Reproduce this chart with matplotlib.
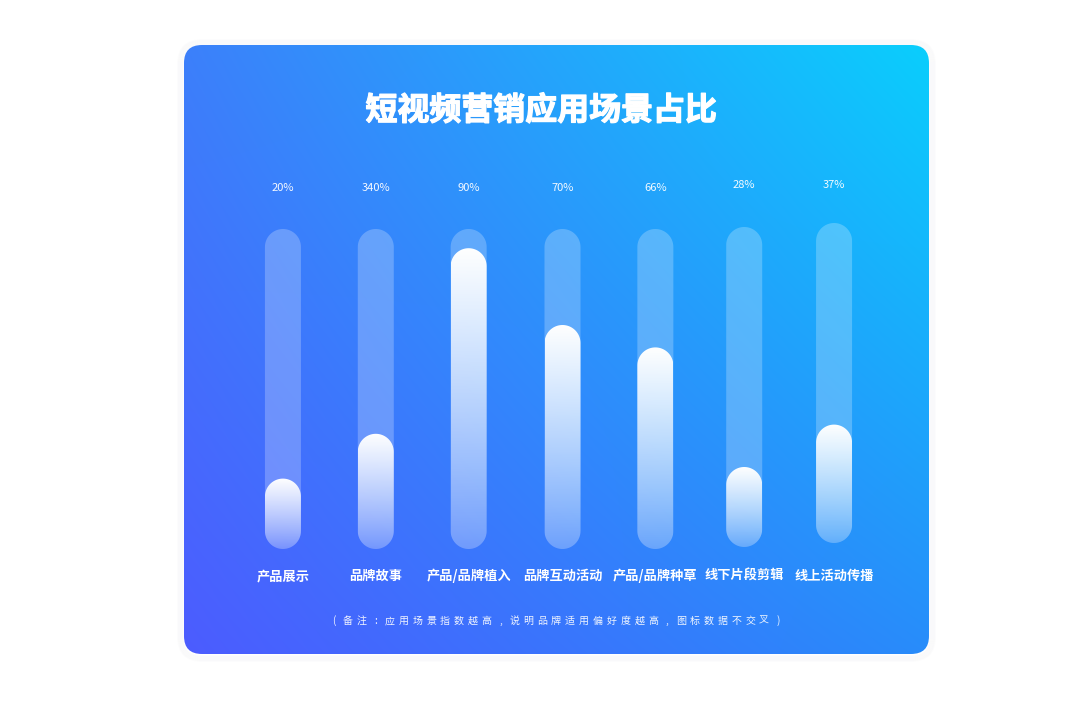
import numpy as np
import matplotlib.pyplot as plt
import matplotlib.patheffects as pe
from matplotlib.patches import FancyBboxPatch, Polygon
from matplotlib.transforms import IdentityTransform

plt.rcParams['font.family'] = ['Noto Sans CJK SC', 'DejaVu Sans']

# 数据
categories = ['产品展示', '品牌故事', '产品/品牌植入', '品牌互动活动', '产品/品牌种草', '线下片段剪辑', '线上活动传播']
pct_labels = ['20%', '340%', '90%', '70%', '66%', '28%', '37%']
values = [22, 36, 94, 70, 63, 25, 37]   # 按图中白色柱高读出
title = '短视频营销应用场景占比'
note = '(备注:应用场景指数越高,说明品牌适用偏好度越高,图标数据不交叉)'

W, H = 1080, 717
fig = plt.figure(figsize=(W / 100, H / 100), dpi=100, facecolor='white')


def pill(xc, y0, y1, r, **kw):
    # 圆头柱子 (显示坐标)
    a = np.linspace(0, np.pi, 40)
    top = np.column_stack([xc + r * np.cos(a), y1 - r + r * np.sin(a)])
    bot = np.column_stack([xc - r * np.cos(a), y0 + r - r * np.sin(a)])
    return Polygon(np.vstack([top, bot]), closed=True, transform=IdentityTransform(),
                   clip_on=False, **kw)


# 背景卡片
bg = fig.add_axes([0, 0, 1, 1])
bg.set_xlim(0, W)
bg.set_ylim(0, H)
bg.axis('off')

cx0, cx1, cy0, cy1 = 184, 929, 63, 672  # 卡片 (y 从底部算起)
for k in range(1, 7):
    sh = FancyBboxPatch((cx0 - k, cy0 - k - 1), cx1 - cx0 + 2 * k, cy1 - cy0 + 2 * k,
                        boxstyle='round,pad=0,rounding_size=%d' % (18 + k),
                        fc='none', ec=(0.5, 0.55, 0.65, 0.025), lw=1.2)
    bg.add_patch(sh)
card = FancyBboxPatch((cx0, cy0), cx1 - cx0, cy1 - cy0,
                      boxstyle='round,pad=0,rounding_size=18', fc='none', ec='none')
bg.add_patch(card)

# 四角颜色做双线性渐变
tl = np.array([60, 128, 250]) / 255
tr = np.array([10, 206, 253]) / 255
bl = np.array([76, 92, 255]) / 255
br = np.array([40, 140, 250]) / 255
u = np.linspace(0, 1, 200)[None, :, None]
v = np.linspace(0, 1, 200)[:, None, None]
grad = (1 - v) * ((1 - u) * tl + u * tr) + v * ((1 - u) * bl + u * br)
img = bg.imshow(grad, extent=[cx0, cx1, cy0, cy1], origin='upper', aspect='auto',
                interpolation='bilinear', zorder=1)
img.set_clip_path(card)

bg.text((cx0 + cx1) / 2 - 15, H - 111, title, color='white', fontsize=23,
        fontweight='bold', ha='center', va='center', zorder=5,
        path_effects=[pe.withStroke(linewidth=0.9, foreground='white')])

# 备注文字逐字等距排布
nx = np.linspace(334, 778, len(note))
for ch, x in zip(note, nx):
    bg.text(x, H - 621, ch, color='white', fontsize=7.2, ha='center', va='center',
            zorder=5, alpha=0.92)

# 柱状区域
ax = fig.add_axes([237 / W, 168 / H, 643 / W, 320 / H])
ax.set_xlim(-0.5, len(categories) - 0.5)
ax.set_ylim(0, 100)
ax.axis('off')
ax.patch.set_alpha(0)

nudge = [0, 1, 2, 4, 5, 2, 0]
lift = [0, 0, 0, 0, 0, 2, 6]
lab_lift = [0, 0, 0, 0, 0, 3, 3]
r = 18
fig.canvas.draw()
for i, (cat, lab, val) in enumerate(zip(categories, pct_labels, values)):
    xc, yb = ax.transData.transform((i, 0))
    _, yt = ax.transData.transform((i, 100))
    _, yv = ax.transData.transform((i, val))
    xc += nudge[i]
    yb += lift[i]
    yt += lift[i]
    yv += lift[i]
    ax.add_patch(pill(xc, yb, yt, r, fc=(1, 1, 1, 0.24), ec='none', zorder=2))
    fill = pill(xc, yb, yv, r, fc='none', ec='none', zorder=3)
    ax.add_patch(fill)
    t = np.linspace(1, 0, 100) ** 0.9
    g = np.ones((100, 1, 4))
    g[:, 0, 3] = 0.05 + 0.95 * t
    x0, y0 = ax.transData.inverted().transform((xc - r, yb))
    x1, y1 = ax.transData.inverted().transform((xc + r, yv))
    im = ax.imshow(g, extent=[x0, x1, y0, y1], origin='upper', aspect='auto',
                   interpolation='bilinear', zorder=3)
    im.set_clip_path(fill)
    bg.text(xc, H - 188 + lab_lift[i], lab, color='white', fontsize=8, ha='center',
            va='center', zorder=5, alpha=0.95)
    bg.text(xc, H - 576, cat, color='white', fontsize=9.5, fontweight='bold',
            ha='center', va='center', zorder=5)

ax.set_xlim(-0.5, len(categories) - 0.5)
ax.set_ylim(0, 100)
fig.savefig('out.png', dpi=100, facecolor='white')
